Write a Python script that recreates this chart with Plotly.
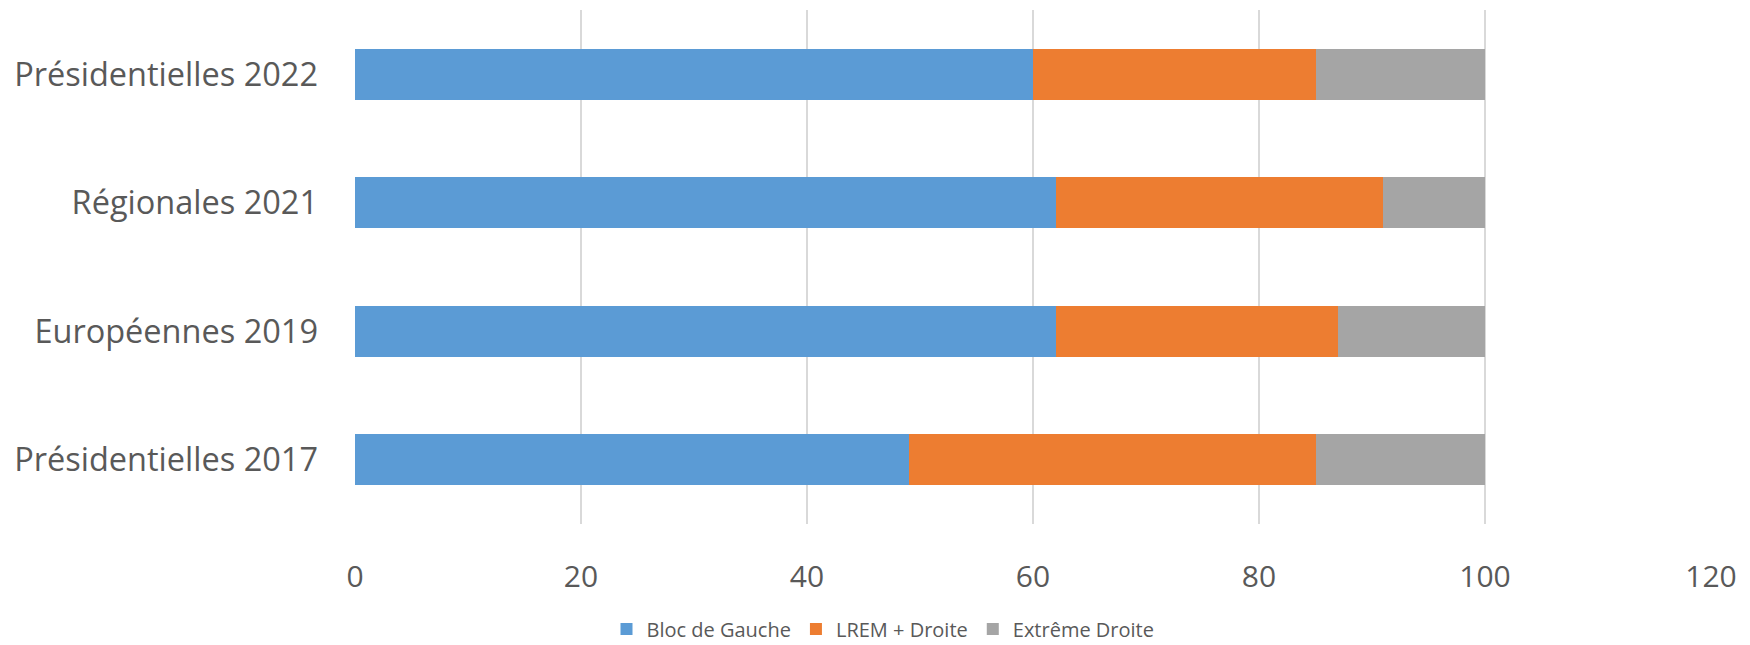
import plotly.graph_objects as go

categories = ["Présidentielles 2017", "Européennes 2019", "Régionales 2021", "Présidentielles 2022"]
bloc_gauche = [49, 62, 62, 60]
lrem_droite = [36, 25, 29, 25]
extreme_droite = [15, 13, 9, 15]
x_ticks = [0, 20, 40, 60, 80, 100, 120]

series = [
    ("Bloc de Gauche", bloc_gauche, "#5B9BD5"),
    ("LREM + Droite", lrem_droite, "#ED7D31"),
    ("Extrême Droite", extreme_droite, "#A5A5A5"),
]

fig = go.Figure()
for name, vals, col in series:
    fig.add_trace(go.Bar(
        y=categories, x=vals, name=name, orientation="h",
        marker=dict(color=col, line=dict(width=0)),
    ))

font_family = "Open Sans"
W, H = 1742, 637
fig.update_layout(
    barmode="stack",
    bargap=0.6,
    width=W, height=H,
    margin=dict(l=347, r=39, t=2, b=121, autoexpand=False),
    paper_bgcolor="white", plot_bgcolor="white",
    font=dict(family=font_family, color="#595959"),
    legend=dict(
        orientation="h", xref="container", yref="container",
        x=(883 - 8) / W, xanchor="center", y=1 - (629 - 8) / H, yanchor="middle",
        font=dict(size=20, color="#595959"),
        traceorder="normal", itemwidth=30,
    ),
    xaxis=dict(
        range=[0, 120], tickvals=x_ticks, showgrid=True,
        gridcolor="#D9D9D9", gridwidth=1.5, zeroline=False,
        showline=False, ticklabelstandoff=32,
        tickfont=dict(size=30, color="#595959"),
    ),
    yaxis=dict(
        showgrid=False, showline=False, zeroline=False,
        ticklabelstandoff=36, tickfont=dict(size=32.5, color="#595959"),
    ),
)
fig.write_html("out.html")
